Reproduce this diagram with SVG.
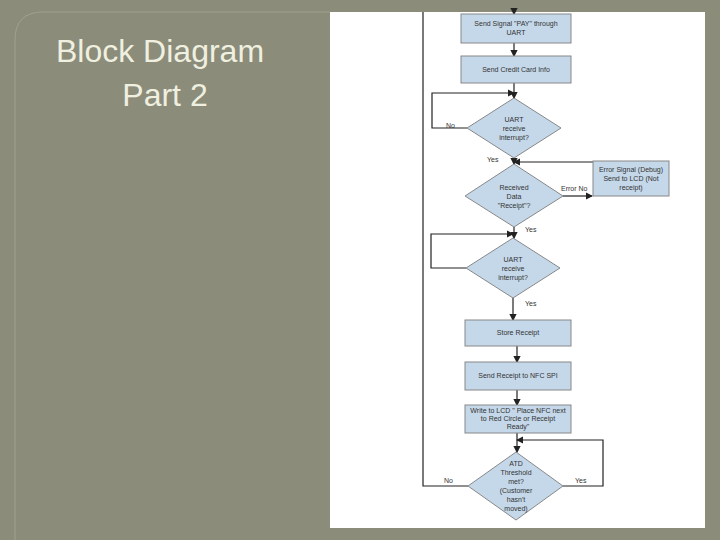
<svg xmlns="http://www.w3.org/2000/svg" width="720" height="540" viewBox="0 0 720 540">
<defs>
<marker id="a" markerWidth="6" markerHeight="6" refX="5" refY="3" orient="auto"><path d="M0,0L6,3L0,6z" fill="#222"/></marker>
<style>
.n{fill:#c5d8ea;stroke:#888;stroke-width:1}
.t{font-family:"Liberation Sans",Arial,sans-serif;font-size:7px;fill:#333;text-anchor:middle}
.l{font-family:"Liberation Sans",Arial,sans-serif;font-size:7px;fill:#333}
.c{fill:none;stroke:#222;stroke-width:1.2}
.ca{fill:none;stroke:#222;stroke-width:1.2;marker-end:url(#a)}
</style>
</defs>
<rect width="720" height="540" fill="#8b8c7a"/>
<path d="M15,540V40Q15,12 43,12H330" fill="none" stroke="#a0a190" stroke-width="1"/>
<rect x="330" y="12" width="375" height="516" fill="#fff"/>
<text x="160" y="62" font-family="Liberation Sans,Arial,sans-serif" font-size="32" fill="#f0f0e0" text-anchor="middle">Block Diagram</text>
<text x="165" y="106" font-family="Liberation Sans,Arial,sans-serif" font-size="32" fill="#f0f0e0" text-anchor="middle">Part 2</text>
<g id="connectors">
<path class="ca" d="M514,8V14"/>
<path class="ca" d="M514,43V56"/>
<path class="ca" d="M514,83V98"/>
<path class="ca" d="M467,128H432V93H514"/>
<path class="ca" d="M514,158V164"/>
<path class="ca" d="M563,196H592"/>
<path class="ca" d="M593,162H514"/>
<path class="ca" d="M514,227V238"/>
<path class="ca" d="M466,268H431V234H513"/>
<path class="ca" d="M513,298V320"/>
<path class="ca" d="M517,346V362"/>
<path class="ca" d="M517,390V405"/>
<path class="ca" d="M517,433V452"/>
<path class="ca" d="M563,486H603V440H517"/>
<path class="c" d="M468,486H423V12"/>
<text class="l" x="446" y="128">No</text>
<text class="l" x="487" y="162">Yes</text>
<text class="l" x="561" y="191">Error No</text>
<text class="l" x="525" y="232">Yes</text>
<text class="l" x="525" y="306">Yes</text>
<text class="l" x="444" y="483">No</text>
<text class="l" x="575" y="483">Yes</text>
</g>
<g id="n1"><rect class="n" x="461" y="14" width="110" height="29"/><text class="t" x="516" y="26">Send Signal "PAY" through</text><text class="t" x="516" y="35">UART</text></g>
<g id="n2"><rect class="n" x="461" y="56" width="110" height="27"/><text class="t" x="516" y="72">Send Credit Card Info</text></g>
<g id="d1"><path class="n" d="M514,98L561,128L514,158L467,128z"/><text class="t" x="514" y="122">UART</text><text class="t" x="514" y="131">receive</text><text class="t" x="514" y="140">interrupt?</text></g>
<g id="d2"><path class="n" d="M514,164L563,196L514,227L465,196z"/><text class="t" x="514" y="190">Received</text><text class="t" x="514" y="199">Data</text><text class="t" x="514" y="208">"Receipt"?</text></g>
<g id="e"><rect class="n" x="593" y="161" width="76" height="35"/><text class="t" x="631" y="172">Error Signal (Debug)</text><text class="t" x="631" y="181">Send to LCD (Not</text><text class="t" x="631" y="190">receipt)</text></g>
<g id="d3"><path class="n" d="M513,238L560,268L513,298L466,268z"/><text class="t" x="513" y="262">UART</text><text class="t" x="513" y="271">receive</text><text class="t" x="513" y="280">interrupt?</text></g>
<g id="n3"><rect class="n" x="465" y="320" width="106" height="26"/><text class="t" x="518" y="335">Store Receipt</text></g>
<g id="n4"><rect class="n" x="465" y="362" width="106" height="28"/><text class="t" x="518" y="378">Send Receipt to NFC SPI</text></g>
<g id="n5"><rect class="n" x="465" y="405" width="106" height="28"/><text class="t" x="518" y="413">Write to LCD " Place NFC next</text><text class="t" x="518" y="421">to Red Circle or Receipt</text><text class="t" x="518" y="429">Ready"</text></g>
<g id="d4"><path class="n" d="M516,452L563,486L516,520L468,486z"/><text class="t" x="516" y="466">ATD</text><text class="t" x="516" y="475">Threshold</text><text class="t" x="516" y="484">met?</text><text class="t" x="516" y="493">(Customer</text><text class="t" x="516" y="502">hasn't</text><text class="t" x="516" y="511">moved)</text></g>
</svg>
